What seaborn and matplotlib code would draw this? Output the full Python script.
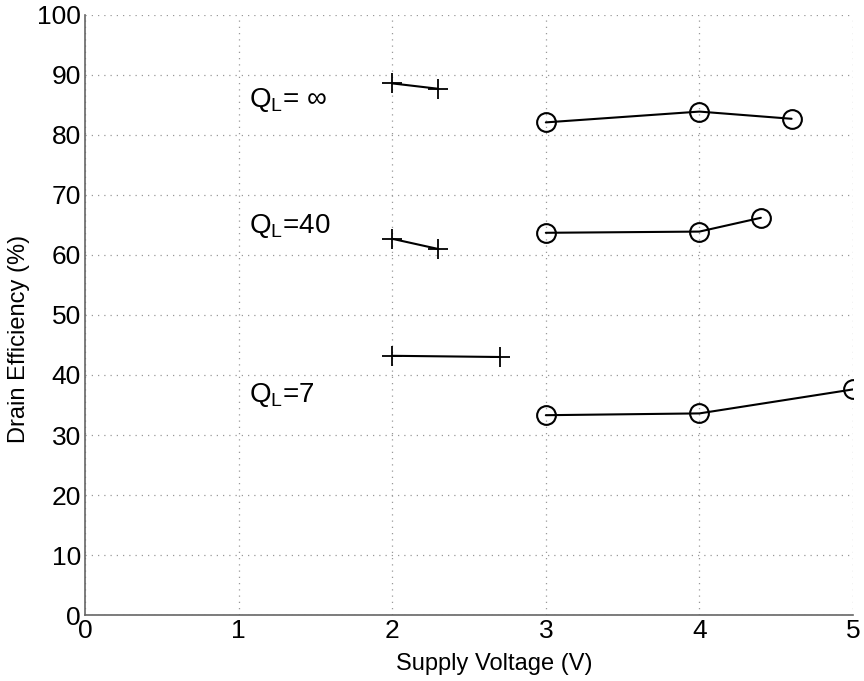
import matplotlib
matplotlib.use("Agg")
import matplotlib.pyplot as plt
import seaborn as sns
import pandas as pd

# Data
cross_inf_x = [2.0, 2.3]
cross_inf_y = [88.6, 87.7]
circ_inf_x = [3.0, 4.0, 4.6]
circ_inf_y = [82.1, 83.9, 82.7]

cross_40_x = [2.0, 2.3]
cross_40_y = [62.7, 61.0]
circ_40_x = [3.0, 4.0, 4.4]
circ_40_y = [63.7, 63.9, 66.2]

cross_7_x = [2.0, 2.7]
cross_7_y = [43.2, 43.0]
circ_7_x = [3.0, 4.0, 5.0]
circ_7_y = [33.3, 33.6, 37.6]

labels = ["= \u221e", "=40", "=7"]
label_y = [85.8, 64.8, 36.7]
label_x = 1.07

xticks = [0, 1, 2, 3, 4, 5]
yticks = [0, 10, 20, 30, 40, 50, 60, 70, 80, 90, 100]

sns.set_style("white")
plt.rcParams['font.family'] = ['Liberation Sans', 'DejaVu Sans']
plt.rcParams['mathtext.fontset'] = 'custom'
plt.rcParams['mathtext.rm'] = 'Liberation Sans'
plt.rcParams['mathtext.it'] = 'Liberation Sans'
plt.rcParams['text.color'] = 'black'
plt.rcParams['axes.labelcolor'] = 'black'
plt.rcParams['xtick.labelcolor'] = 'black'
plt.rcParams['ytick.labelcolor'] = 'black'

fig = plt.figure(figsize=(8.64, 6.81), dpi=100)
ax = fig.add_axes([0.0984, 0.0969, 0.8889, 0.8811])

def draw(x, y, marker, ms, mew):
    df = pd.DataFrame({"x": x, "y": y})
    sns.lineplot(data=df, x="x", y="y", ax=ax, sort=False, color="black",
                 linewidth=1.5, marker=marker, markersize=ms,
                 markerfacecolor="none", markeredgecolor="black",
                 markeredgewidth=mew, estimator=None)

for xs, ys in [(cross_inf_x, cross_inf_y), (cross_40_x, cross_40_y), (cross_7_x, cross_7_y)]:
    draw(xs, ys, "+", 15, 1.3)
for xs, ys in [(circ_inf_x, circ_inf_y), (circ_40_x, circ_40_y), (circ_7_x, circ_7_y)]:
    draw(xs, ys, "o", 13.5, 1.5)

for lab, ly in zip(labels, label_y):
    ax.text(label_x, ly, r"$\mathrm{Q_L}$" + lab, fontsize=20, va="center", ha="left",
            color="black")

ax.set_xlim(0, 5)
ax.set_ylim(0, 100)
ax.set_xticks(xticks)
ax.set_yticks(yticks)
ax.tick_params(axis="both", direction="in", length=6, labelsize=19, color="#555555",
               labelcolor="black", pad=3)
ax.grid(True, linestyle=(0, (1, 4)), color="#999999", linewidth=0.9)
for s in ["top", "right"]:
    ax.spines[s].set_visible(False)
for s in ["left", "bottom"]:
    ax.spines[s].set_color("#666666")
    ax.spines[s].set_linewidth(1.2)
ax.set_xlabel("Supply Voltage (V)", fontsize=17, color="black")
ax.set_ylabel("Drain Efficiency (%)", fontsize=17, color="black")
ax.xaxis.set_label_coords(0.533, -0.064)
ax.yaxis.set_label_coords(-0.072, 0.46)

fig.savefig("out.png", dpi=100)
